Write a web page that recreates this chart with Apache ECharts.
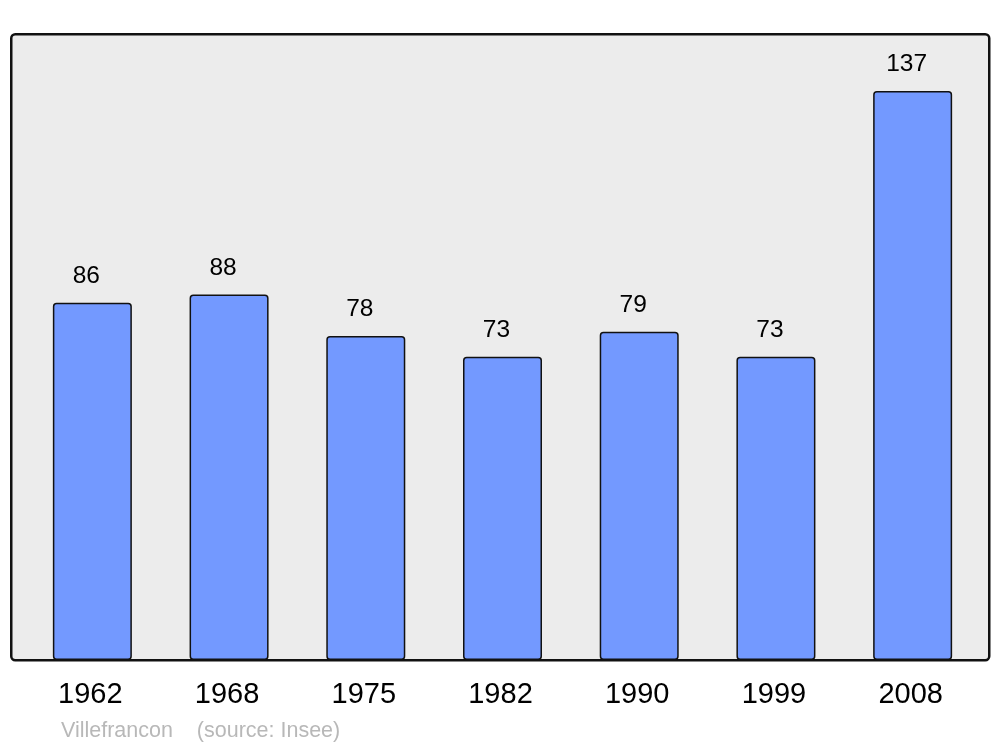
<!DOCTYPE html>
<html>
<head>
<meta charset="utf-8">
<script src="https://cdn.jsdelivr.net/npm/echarts@6/dist/echarts.min.js"></script>
<style>
html,body{margin:0;padding:0;background:#fff;}
#c{width:1000px;height:747px;}
</style>
</head>
<body>
<div id="c"></div>
<script>
const years = ['1962','1968','1975','1982','1990','1999','2008'];
const population = [86, 88, 78, 73, 79, 73, 137];
const footerText = 'Villefrancon    (source: Insee)';

const chart = echarts.init(document.getElementById('c'), null, {renderer:'canvas'});
const font = '"Liberation Sans", Arial, sans-serif';
chart.setOption({
  animation: false,
  backgroundColor: '#ffffff',
  title: {
    text: footerText,
    left: 61, top: 720,
    padding: 0,
    textStyle: {color:'#b8b8b8', fontSize:21.5, fontWeight:'normal', fontFamily:font}
  },
  graphic: [{
    type: 'rect',
    left: 10, top: 33, z: -10,
    shape: {width: 978, height: 626, r: 4},
    style: {fill: '#ececec', stroke: '#111111', lineWidth: 2.5}
  }],
  grid: {left: 24, right: 19, top: 34, bottom: 87, containLabel: false},
  xAxis: {
    type: 'category',
    data: years,
    axisLine: {show:false},
    axisTick: {show:false},
    axisLabel: {color:'#000', fontSize:29, fontFamily:font, margin:20, padding:[0,4,0,0]}
  },
  yAxis: {
    type: 'value',
    min: 0,
    max: function(v){ return v.max * 1.1; },
    show: false,
    splitLine: {show:false}
  },
  series: [{
    type: 'bar',
    data: population,
    barWidth: 79,
    itemStyle: {color:'#7399ff', borderColor:'#111111', borderWidth:1.5, borderRadius:3},
    label: {show:true, position:'top', distance:14, offset:[-6,0], color:'#000', fontSize:24.5, fontFamily:font}
  }]
});
</script>
</body>
</html>
